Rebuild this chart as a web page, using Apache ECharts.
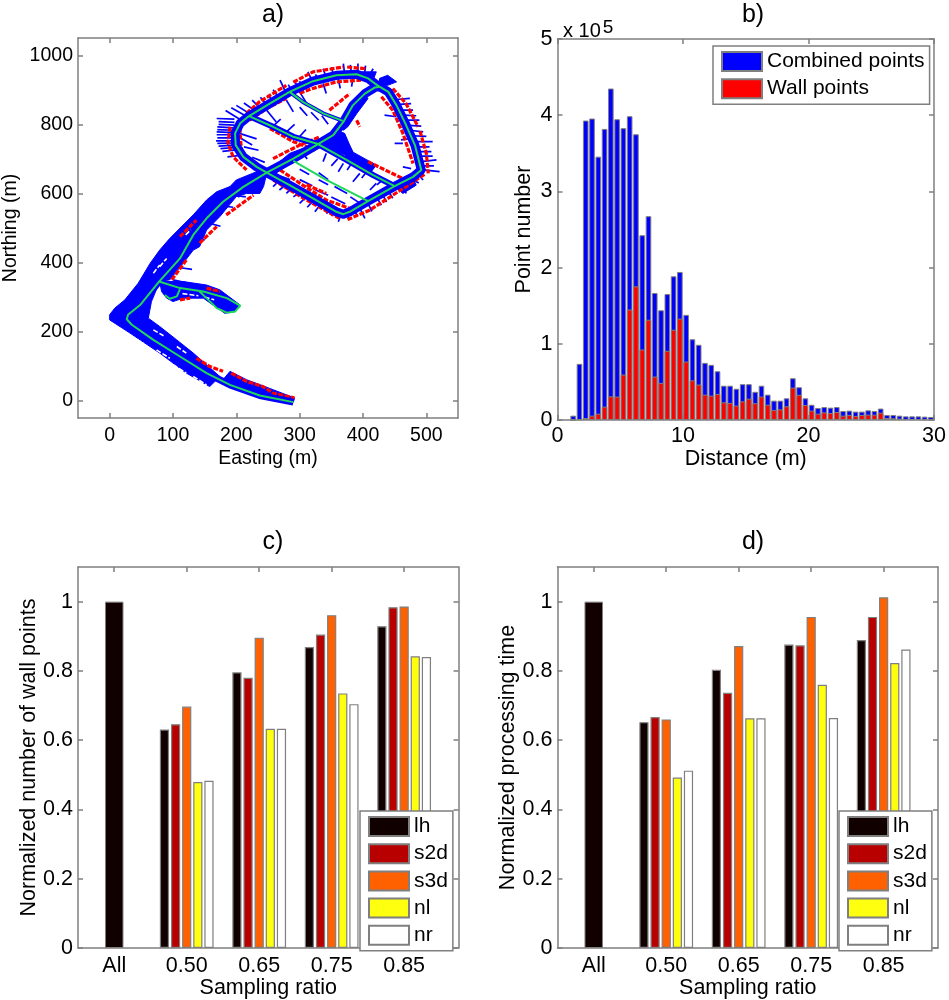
<!DOCTYPE html>
<html>
<head>
<meta charset="utf-8">
<script src="https://cdn.jsdelivr.net/npm/echarts@6/dist/echarts.min.js"></script>
<style>html,body{margin:0;padding:0;background:#fff}#c{width:949px;height:1000px}</style>
</head>
<body>
<div id="c"></div>
<script>
// ---- Panel a: survey map, in metres (easting, northing) ----
const trajRing = [[248,660],[232,677],[211,706],[199,740],[198,774],[206,803],[220,824],[248,855],[284,894],[321,925],[358,942],[390,945],[408,933],[419,918],[426,909],[440,894],[453,855],[468,798],[482,740],[492,668],[479,648],[450,621],[408,578],[379,547],[369,540],[358,547],[321,586],[284,624],[248,660]];
const trajDiag = [[248,660],[290,701],[329,743],[353,769],[369,807],[384,855],[403,889],[419,907],[426,909]];
const trajCross = [[220,824],[258,793],[290,764],[329,743],[374,697],[416,653],[450,621]];
const trajBranch = [[284,894],[305,865],[337,832],[368,810]];
const trajInner = [[290,694],[342,639],[408,578]];
const trajRoad = [[248,660],[211,619],[179,576],[153,528],[132,480],[111,412],[78,345],[48,277],[29,249],[27,236],[35,220],[69,176],[111,128],[153,80],[190,46],[237,15],[290,-4]];
const trajSide = [[78,345],[111,326],[148,316],[185,297],[206,275],[198,258],[185,255],[169,268],[153,297],[142,316]];
const trajSide2 = [[111,323],[106,302],[95,295],[87,306]];
const trajectories = [trajRing, trajDiag, trajCross, trajBranch, trajInner, trajRoad, trajSide, trajSide2];

// Outlines of the dense parts of the point cloud
const cloudRoad = [[0,249],[8,268],[24,292],[45,340],[64,398],[79,436],[95,470],[132,538],[153,581],[169,605],[190,620],[200,639],[232,663],[248,658],[243,620],[237,600],[216,600],[200,591],[174,533],[153,494],[142,446],[132,436],[116,398],[95,350],[79,345],[66,287],[61,239],[79,215],[106,176],[132,138],[174,70],[158,41],[121,80],[79,138],[32,196],[0,234]];
const cloudSide = [[79,345],[116,345],[153,335],[174,321],[206,277],[198,258],[182,253],[163,277],[148,297],[116,297],[100,287],[90,297],[82,316]];
const cloudTail = [[190,85],[216,61],[258,32],[292,8],[290,-4],[237,15],[179,61]];
const cloudHub = [[337,740],[358,783],[371,774],[379,740],[384,721],[374,711],[353,721]];
const cloudNeck = [[371,831],[387,865],[403,884],[408,875],[390,831],[376,793],[369,783],[366,812]];
const cloudCapE = [[426,933],[439,942],[453,923],[439,913],[426,913]];
const cloudCapN = [[395,952],[421,952],[416,928],[397,942]];
const cloudJoin = [[253,668],[284,716],[326,745],[334,735],[290,692],[258,653]];
const cloudCrossSE = [[374,730],[421,682],[413,663],[371,701]];
const cloudCornerE = [[450,620],[479,644],[484,624],[463,600]];
const cloudPolys = [cloudRoad,cloudSide,cloudTail,cloudHub,cloudNeck,cloudCapE,cloudCapN,cloudJoin,cloudCrossSE,cloudCornerE];

const spikes = [
  [[169,817],[197,815]],[[172,800],[197,798]],[[170,785],[196,783]],[[169,770],[195,770]],[[168,752],[196,752]],[[172,737],[197,740]],[[178,722],[200,726]],[[186,706],[206,710]],
  [[172,808],[197,806]],[[170,793],[196,790]],[[169,778],[196,776]],[[170,761],[196,761]],[[170,745],[197,746]],[[175,730],[198,733]],
  [[183,840],[208,812]],[[200,855],[222,830]],[[225,870],[240,842]],[[250,885],[262,858]],[[269,928],[279,889]],[[300,925],[306,895]],[[313,952],[320,925]],[[337,961],[342,935]],[[369,976],[371,945]],[[392,976],[392,945]],[[416,961],[408,935]],
  [[192,848],[215,824]],[[212,862],[232,836]],[[238,878],[252,850]],[[258,900],[270,870]],[[282,915],[290,890]],[[292,925],[298,905]],[[325,945],[330,925]],[[350,965],[354,940]],[[380,972],[382,945]],[[404,970],[402,940]],
  [[474,875],[453,872]],[[479,841],[463,841]],[[489,812],[468,812]],[[495,778],[474,783]],[[510,750],[479,750]],[[508,721],[484,721]],[[516,697],[492,692]],[[521,663],[495,668]],
  [[476,860],[458,858]],[[484,825],[465,827]],[[492,795],[472,797]],[[500,765],[476,767]],[[505,735],[482,735]],[[510,708],[488,708]],[[512,680],[490,680]],
  [[495,639],[484,660]],[[468,600],[463,634]],[[447,586],[439,610]],[[429,566],[421,591]],[[403,528],[395,557]],[[379,523],[374,542]],[[361,518],[366,542]],[[342,542],[353,557]],[[324,547],[334,571]],[[300,571],[313,595]],[[279,600],[290,620]],[[258,620],[269,639]],
  [[488,630],[470,650]],[[458,610],[452,628]],[[437,575],[430,600]],[[414,548],[407,575]],[[392,535],[385,550]],[[350,535],[358,550]],[[333,560],[344,570]],[[312,560],[322,580]],[[290,590],[302,605]],[[268,610],[280,628]],
  [[248,841],[263,807]],[[279,870],[290,836]],[[300,894],[313,855]],[[337,918],[342,889]],[[361,933],[364,904]],[[384,933],[382,909]],
  [[453,822],[434,827]],[[463,745],[450,745]],[[476,672],[463,677]],[[479,760],[460,755]],
  [[205,774],[232,758]],[[207,760],[225,740]],[[212,735],[235,725]],[[225,705],[245,690]],
  [[342,716],[337,692]],[[369,687],[361,663]],[[395,658],[384,634]],[[421,629],[411,610]],[[300,725],[312,700]],[[330,660],[345,640]],
  [[270,650],[285,640]],[[300,640],[320,622]],[[325,610],[345,595]],[[350,590],[372,570]],[[380,590],[395,572]],[[300,670],[315,655]],[[330,640],[345,625]],[[355,620],[375,600]],
  [[300,850],[312,825]],[[318,835],[330,812]],[[335,825],[345,800]],[[258,795],[270,815]],[[280,780],[292,800]],[[300,765],[310,785]],
  [[360,700],[350,680]],[[383,690],[375,668]],[[408,668],[398,645]],[[433,643],[422,625]],
  [[100,455],[125,445]],[[115,495],[135,480]],[[130,525],[150,510]],[[150,555],[170,535]],[[170,585],[185,565]],[[190,605],[205,590]],
  [[150,465],[135,475]],[[175,505],[155,515]],[[195,560],[175,565]],[[215,590],[195,595]],[[60,360],[85,350]],[[75,395],[98,380]],[[88,425],[112,410]],[[125,340],[100,350]],[[130,380],[112,385]]
];
const wallSegments = [
  [[216,832],[237,866],[279,913]],[[290,922],[321,952],[369,966]],[[375,966],[405,961]],
  [[221,812],[248,846],[279,875]],[[300,890],[321,904],[358,923],[397,928]],
  [[206,790],[206,774],[208,725],[221,692],[237,675]],
  [[190,793],[187,745],[195,706],[216,668]],
  [[447,904],[468,860],[487,793]],[[490,780],[500,716],[503,658]],
  [[429,880],[447,841],[463,774],[479,687]],
  [[497,655],[468,620],[411,552],[374,523]],
  [[363,528],[311,581],[258,639]],
  [[253,788],[290,750],[327,724]],[[408,692],[463,643]],
  [[269,668],[305,624],[342,581],[379,557]],[[311,625],[342,600]],
  [[258,701],[300,740],[332,764]],[[347,841],[379,889]],[[390,812],[395,793]],
  [[111,475],[137,523]],[[142,456],[169,504]],[[184,538],[227,595]],
  [[98,350],[121,407]],[[50,205],[64,181]],
  [[137,123],[158,99],[179,85]],[[192,80],[216,56],[242,41],[258,22],[292,8]],
  [[111,292],[127,297]],[[153,326],[174,316]]
];
const cloudGaps = [[[6,220],[16,205]],[[32,186],[53,167]],[[74,147],[95,123]],[[100,104],[121,80]],[[132,70],[153,46]],[[69,205],[85,188]],[[106,157],[121,138]],[[79,388],[90,412]],[[69,369],[79,393]],[[115,310],[140,304]],[[150,300],[165,292]],[[120,480],[128,495]]];
const eastTicks = [0,100,200,300,400,500];
const northTicks = [0,200,400,600,800,1000];

// ---- Panel b: histogram ----
const distanceBins = [1.25,1.75,2.25,2.75,3.25,3.75,4.25,4.75,5.25,5.75,6.25,6.75,7.25,7.75,8.25,8.75,9.25,9.75,10.25,10.75,11.25,11.75,12.25,12.75,13.25,13.75,14.25,14.75,15.25,15.75,16.25,16.75,17.25,17.75,18.25,18.75,19.25,19.75,20.25,20.75,21.25,21.75,22.25,22.75,23.25,23.75,24.25,24.75,25.25,25.75,26.25,26.75,27.25,27.75,28.25,28.75,29.25,29.75];
const combinedPoints = [5700,73700,393000,395600,345600,382000,435000,394700,383000,398700,375000,242500,267500,166700,144000,165300,188600,194300,138000,106000,98700,75000,72400,64000,45000,45000,41000,47000,47000,37000,45000,33300,25400,25400,28500,54800,43000,28500,20000,15800,17000,16200,17000,11800,12300,11000,11000,12700,11800,15000,6600,6600,5700,4800,4800,4800,4400,4000];
const wallPoints = [0,1000,2600,5700,8300,17500,31000,30700,59600,145000,175400,92500,131600,57000,48700,90800,118400,133000,76700,52000,46500,33300,32000,34200,23200,22400,18900,24500,28000,22000,30700,20000,13000,14000,18000,42500,33000,19700,12300,8300,10000,9200,10500,5700,6600,5300,6600,7000,7000,9600,2600,2200,1800,1300,1300,1300,900,900];
const distTicks = [0,10,20,30];
const countTicks = [0,100000,200000,300000,400000,500000];

// ---- Panels c and d ----
const ratioLabels = ['All','0.50','0.65','0.75','0.85'];
const ratioPos = [1,2,3,4,5];
const fracTicks = [0,0.2,0.4,0.6,0.8,1];
const methods = ['lh','s2d','s3d','nl','nr'];
const methodColors = ['#100000','#b80000','#ff6000','#ffff10','#ffffff'];
const wallAll = [1];
const wallFrac = {
  lh:[0.631,0.796,0.869,0.929],
  s2d:[0.646,0.780,0.905,0.984],
  s3d:[0.697,0.896,0.961,0.986],
  nl:[0.479,0.633,0.735,0.842],
  nr:[0.483,0.633,0.704,0.840]
};
const timeAll = [1];
const timeFrac = {
  lh:[0.652,0.803,0.876,0.889],
  s2d:[0.667,0.737,0.874,0.956],
  s3d:[0.660,0.872,0.956,1.0125],
  nl:[0.492,0.663,0.760,0.823],
  nr:[0.512,0.663,0.664,0.862]
};

const FONT = '"Liberation Sans", Arial, sans-serif';
const GRAY = '#7f7f7f';

function xAx(grid, min, max, ticks, fmt, name, gap, margin, fs){
  return [{
    gridIndex:grid,type:'value',position:'bottom',min,max,name,nameLocation:'middle',nameGap:gap,nameMoveOverlap:false,
    nameTextStyle:{fontFamily:FONT,fontSize:fs,color:'#000'},
    axisLine:{show:true,onZero:false,lineStyle:{color:GRAY,width:1.5}},
    axisTick:{show:true,inside:true,length:5,customValues:ticks,lineStyle:{color:GRAY,width:1.5}},
    axisLabel:{show:true,margin,fontFamily:FONT,fontSize:fs,color:'#000',customValues:ticks,hideOverlap:false,showMinLabel:true,showMaxLabel:true,formatter:fmt},
    splitLine:{show:false}
  },{
    gridIndex:grid,type:'value',position:'top',min,max,
    axisLine:{show:true,onZero:false,lineStyle:{color:GRAY,width:1.5}},
    axisTick:{show:true,inside:true,length:5,customValues:ticks,lineStyle:{color:GRAY,width:1.5}},
    axisLabel:{show:false},splitLine:{show:false}
  }];
}
function yAx(grid, min, max, ticks, fmt, name, gap, fs){
  return [{
    gridIndex:grid,type:'value',position:'left',min,max,name,nameLocation:'middle',nameGap:gap,nameRotate:90,nameMoveOverlap:false,
    nameTextStyle:{fontFamily:FONT,fontSize:fs,color:'#000'},
    axisLine:{show:true,onZero:false,lineStyle:{color:GRAY,width:1.5}},
    axisTick:{show:true,inside:true,length:5,customValues:ticks,lineStyle:{color:GRAY,width:1.5}},
    axisLabel:{show:true,margin:5,fontFamily:FONT,fontSize:fs,color:'#000',customValues:ticks,hideOverlap:false,showMinLabel:true,showMaxLabel:true,formatter:fmt},
    splitLine:{show:false}
  },{
    gridIndex:grid,type:'value',position:'right',min,max,
    axisLine:{show:true,onZero:false,lineStyle:{color:GRAY,width:1.5}},
    axisTick:{show:true,inside:true,length:5,customValues:ticks,lineStyle:{color:GRAY,width:1.5}},
    axisLabel:{show:false},splitLine:{show:false}
  }];
}
function pathSeries(paths,color,width,dash){
  return {type:'lines',coordinateSystem:'cartesian2d',xAxisIndex:0,yAxisIndex:0,polyline:true,silent:true,animation:false,
    lineStyle:{color,width,opacity:1,curveness:0,cap:'butt',join:'round',type:dash||'solid'},
    data:paths.map(p=>({coords:p}))};
}
function polygonSeries(polys,color){
  return {type:'custom',coordinateSystem:'cartesian2d',xAxisIndex:0,yAxisIndex:0,silent:true,animation:false,
    data:polys.map(p=>p[0]),
    renderItem:(params,api)=>({type:'polygon',
      shape:{points:polys[params.dataIndex].map(p=>api.coord(p))},
      style:{fill:color,stroke:color,lineWidth:1,lineJoin:'round'}})};
}
function groupSeries(xIdx,yIdx,allVals,fracs){
  const out=[{type:'bar',name:'lh',xAxisIndex:xIdx+1,yAxisIndex:yIdx,barWidth:18.5,
    itemStyle:{color:methodColors[0],borderColor:GRAY,borderWidth:1},
    data:allVals.map((v,i)=>[ratioPos[i],v]),animation:false}];
  methods.forEach((m,k)=>{
    out.push({type:'bar',name:m,xAxisIndex:xIdx,yAxisIndex:yIdx,barWidth:9.2,barGap:'21%',
      itemStyle:{color:methodColors[k],borderColor:GRAY,borderWidth:1.2},
      data:fracs[m].map((v,i)=>[ratioPos[i+1],v]),animation:false});
  });
  return out;
}
const legendBase = {orient:'vertical',icon:'rect',itemWidth:40,itemHeight:19,itemGap:6.2,selectedMode:false,
  backgroundColor:'#fff',borderColor:GRAY,borderWidth:1.5,textStyle:{fontFamily:FONT,fontSize:21,color:'#000'},z:10};

const ratioFmt = v => ratioLabels[Math.round(v)-1] || '';
const plain = v => String(v);
const tenths = v => String(Math.round(v*10)/10);
const titleStyle = {fontFamily:FONT,fontSize:25,fontWeight:'normal',color:'#000'};

const option = {
  animation:false,
  backgroundColor:'#fff',
  title:[
    {text:'a)',left:268,top:-2,textAlign:'center',textStyle:titleStyle},
    {text:'b)',left:748,top:-2,textAlign:'center',textStyle:titleStyle},
    {text:'c)',left:268,top:525,textAlign:'center',textStyle:titleStyle},
    {text:'d)',left:748,top:525,textAlign:'center',textStyle:titleStyle},
    {text:'{a|x 10}{b|5}',left:558,top:13,textStyle:{fontWeight:'normal',rich:{
      a:{fontFamily:FONT,fontSize:20,fontWeight:'normal',color:'#000'},
      b:{fontFamily:FONT,fontSize:19,fontWeight:'normal',color:'#000',verticalAlign:'top',padding:[0,0,8,2]}}}}
  ],
  grid:[
    {left:78,top:38,width:380,height:380},
    {left:557.5,top:39,width:380.5,height:381},
    {left:78,top:567,width:380.5,height:381},
    {left:557.5,top:567,width:380.5,height:381}
  ],
  xAxis:[
    ...xAx(0,-50,550,eastTicks,plain,'Easting (m)',31,8,19.5),
    ...xAx(1,0,30,distTicks,plain,'Distance (m)',28,5,21.5),
    ...xAx(2,0.5,5.75,ratioPos,ratioFmt,'Sampling ratio',29,7,21.5),
    ...xAx(3,0.5,5.75,ratioPos,ratioFmt,'Sampling ratio',29,7,21.5)
  ],
  yAxis:[
    ...yAx(0,-50,1050,northTicks,plain,'Northing (m)',57,19.5),
    ...yAx(1,0,500000,countTicks,v=>String(v/100000),'Point number',22,21.5),
    ...yAx(2,0,1.1,fracTicks,tenths,'Normalized number of wall points',38,21.5),
    ...yAx(3,0,1.1,fracTicks,tenths,'Normalized processing time',38,21.5)
  ],
  legend:[
    {...legendBase,data:['Combined points','Wall points'],left:713,top:46,padding:[5,5,5,8]},
    {...legendBase,data:methods,left:360,top:811,padding:[5,5,5,8]},
    {...legendBase,data:methods,left:839,top:811,padding:[5,5,5,8]}
  ],
  series:[
    pathSeries(spikes,'#0000ff',1.7),
    polygonSeries(cloudPolys,'#0000ff'),
    pathSeries(cloudGaps,'#ffffff',1.6,[5,2]),
    pathSeries(wallSegments,'#ff0000',3.2,[5,1.5]),
    pathSeries([trajRing,trajDiag],'#0000ff',9),
    pathSeries([trajCross],'#0000ff',6),
    pathSeries([trajBranch],'#0000ff',4),
    pathSeries([trajRoad],'#0000ff',7),
    pathSeries(trajectories,'#1fd85a',2),
    {type:'bar',name:'Combined points',xAxisIndex:2,yAxisIndex:2,barWidth:5.6,barGap:'-100%',
      itemStyle:{color:'#0000ff',borderColor:GRAY,borderWidth:1},
      data:distanceBins.map((d,i)=>[d,combinedPoints[i]])},
    {type:'bar',name:'Wall points',xAxisIndex:2,yAxisIndex:2,barWidth:5.6,barGap:'-100%',
      itemStyle:{color:'#ff0000',borderColor:GRAY,borderWidth:1},
      data:distanceBins.map((d,i)=>[d,wallPoints[i]])},
    ...groupSeries(4,4,wallAll,wallFrac),
    ...groupSeries(6,6,timeAll,timeFrac)
  ]
};
echarts.init(document.getElementById('c')).setOption(option);
</script>
</body>
</html>
